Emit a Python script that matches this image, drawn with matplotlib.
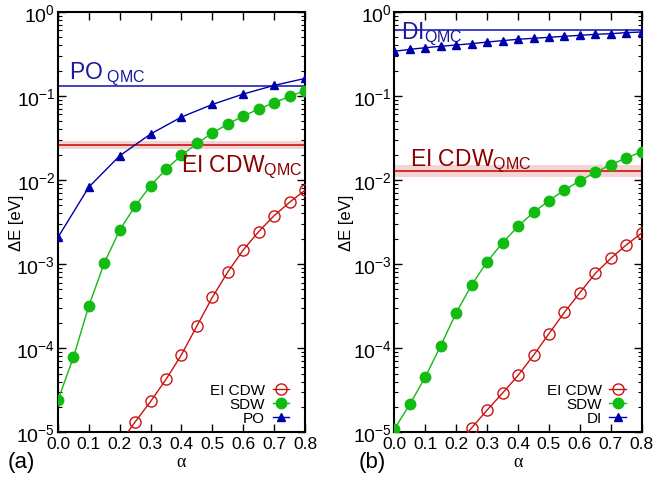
import numpy as np
import matplotlib
matplotlib.use("Agg")
import matplotlib.pyplot as plt
from matplotlib.ticker import LogLocator, NullFormatter, FuncFormatter

plt.rcParams['font.family'] = ['Liberation Sans', 'DejaVu Sans']
plt.rcParams['mathtext.fontset'] = 'custom'
plt.rcParams['mathtext.rm'] = 'Liberation Sans'
plt.rcParams['mathtext.it'] = 'Liberation Sans'
plt.rcParams['mathtext.default'] = 'regular'

# ---------------- data: panel (a) ----------------
alpha_fine = [0.0, 0.05, 0.1, 0.15, 0.2, 0.25, 0.3, 0.35, 0.4, 0.45, 0.5,
              0.55, 0.6, 0.65, 0.7, 0.75, 0.8]
a_sdw = [2.42e-5, 7.8e-5, 3.2e-4, 1.03e-3, 2.54e-3, 4.9e-3, 8.55e-3, 1.34e-2,
         1.96e-2, 2.72e-2, 3.61e-2, 4.62e-2, 5.75e-2, 6.97e-2, 8.28e-2,
         9.86e-2, 0.115]
alpha_po = [0.0, 0.1, 0.2, 0.3, 0.4, 0.5, 0.6, 0.7, 0.8]
a_po = [2.08e-3, 8.24e-3, 1.94e-2, 3.52e-2, 5.6e-2, 7.9e-2, 0.105, 0.133, 0.161]
alpha_cdw = [0.2, 0.25, 0.3, 0.35, 0.4, 0.45, 0.5, 0.55, 0.6, 0.65, 0.7, 0.75, 0.8]
a_cdw = [7.4e-6, 1.33e-5, 2.33e-5, 4.26e-5, 8.37e-5, 1.84e-4, 4.03e-4, 8.05e-4,
         1.47e-3, 2.43e-3, 3.76e-3, 5.42e-3, 7.53e-3]
a_po_qmc = 0.132
a_cdw_qmc = 0.026
a_cdw_qmc_band = [0.0231, 0.0288]

# ---------------- data: panel (b) ----------------
b_sdw = [1.09e-5, 2.15e-5, 4.54e-5, 1.07e-4, 2.64e-4, 5.64e-4, 1.07e-3, 1.79e-3,
         2.81e-3, 4.12e-3, 5.67e-3, 7.59e-3, 9.79e-3, 1.23e-2, 1.52e-2,
         1.82e-2, 2.17e-2]
b_di = [0.338, 0.357, 0.373, 0.388, 0.402, 0.417, 0.436, 0.453, 0.470, 0.483,
        0.496, 0.510, 0.524, 0.538, 0.548, 0.564, 0.574]
b_cdw = [6.9e-6, 1.13e-5, 1.84e-5, 2.93e-5, 4.75e-5, 8.22e-5, 1.49e-4, 2.67e-4,
         4.57e-4, 7.76e-4, 1.17e-3, 1.69e-3, 2.34e-3]
b_di_qmc = 0.60
b_cdw_qmc = 0.0129
b_cdw_qmc_band = [0.0109, 0.0151]

xticks = [0.0, 0.1, 0.2, 0.3, 0.4, 0.5, 0.6, 0.7, 0.8]
xticklabels = ['0.0', '0.1', '0.2', '0.3', '0.4', '0.5', '0.6', '0.7', '0.8']

RED = '#cc1111'
GREEN = '#11bb11'
BLUE = '#0000aa'
DARKRED = '#8b0000'
NAVY = '#1a1a9a'

fig = plt.figure(figsize=(6.54, 4.85), dpi=100)
axA = fig.add_axes([0.0887, 0.1066, 0.3776, 0.8672])
axB = fig.add_axes([0.6030, 0.1066, 0.3783, 0.8672])


def yfmt(v, pos):
    e = int(round(np.log10(v)))
    return r'$10^{%d}$' % e


def style(ax, ylab_x):
    ax.set_yscale('log')
    ax.set_ylim(1e-5, 1)
    ax.set_xlim(0, 0.8)
    ax.set_xticks(xticks)
    ax.set_xticklabels(xticklabels)
    ax.yaxis.set_major_locator(LogLocator(base=10, numticks=10))
    ax.yaxis.set_major_formatter(FuncFormatter(yfmt))
    ax.yaxis.set_minor_locator(LogLocator(base=10, subs=np.arange(2, 10), numticks=20))
    ax.yaxis.set_minor_formatter(NullFormatter())
    ax.tick_params(which='both', direction='in', top=True, right=True)
    ax.tick_params(axis='x', labelsize=12.5, pad=3)
    ax.tick_params(axis='y', labelsize=14, pad=2)
    ax.tick_params(which='major', length=6, width=1)
    ax.tick_params(which='minor', length=3, width=0.8)
    for s in ax.spines.values():
        s.set_linewidth(1.5)
    ax.set_ylabel('ΔE [eV]', fontsize=12)
    ax.yaxis.set_label_coords(ylab_x, 0.5)
    ax.set_xlabel('α', fontsize=13, family='Liberation Serif', labelpad=1)


def panel(ax, sdw, top, top_alpha, cdw, top_label, top_qmc, cdw_qmc, band):
    ax.axhspan(band[0], band[1], color='#f2c8c8', alpha=0.8, lw=0, zorder=1)
    ax.axhline(cdw_qmc, color=RED, lw=1.2, zorder=2)
    ax.axhline(top_qmc, color='#3333bb', lw=1.3, zorder=2)
    l1, = ax.plot(alpha_cdw, cdw, '-o', color=RED, mfc='none', mec=RED, ms=8,
                  mew=1.0, lw=1.0, label='EI CDW', zorder=3)
    l2, = ax.plot(alpha_fine, sdw, '-o', color=GREEN, mfc=GREEN, mec=GREEN, ms=7.5,
                  lw=1.0, label='SDW', zorder=3)
    l3, = ax.plot(top_alpha, top, '-^', color=BLUE, mfc=BLUE, mec=BLUE, ms=6,
                  lw=1.0, label=top_label, zorder=4)
    leg = ax.legend(handles=[l1, l2, l3], loc='lower right', markerfirst=False,
                    frameon=False, fontsize=11, handlelength=1.1,
                    handletextpad=0.5, labelspacing=0.0,
                    bbox_to_anchor=(0.965, 0.0), borderaxespad=0.05)
    return leg


style(axA, -0.138)
style(axB, -0.163)
panel(axA, a_sdw, a_po, alpha_po, a_cdw, 'PO', a_po_qmc, a_cdw_qmc, a_cdw_qmc_band)
panel(axB, b_sdw, b_di, alpha_fine, b_cdw, 'DI', b_di_qmc, b_cdw_qmc, b_cdw_qmc_band)

axA.text(0.035, 0.164, r'PO$_{\rm\ QMC}$', color=NAVY, fontsize=16.5)
axA.text(0.40, 0.0128, r'EI CDW$_{\rm QMC}$', color=DARKRED, fontsize=16.5)
axB.text(0.02, 0.49, r'DI$_{\rm QMC}$', color=NAVY, fontsize=16.5)
axB.text(0.05, 0.0152, r'EI CDW$_{\rm QMC}$', color=DARKRED, fontsize=16.5)

fig.text(0.012, 0.036, '(a)', fontsize=16)
fig.text(0.548, 0.036, '(b)', fontsize=16)

fig.savefig('out.png', dpi=100)
